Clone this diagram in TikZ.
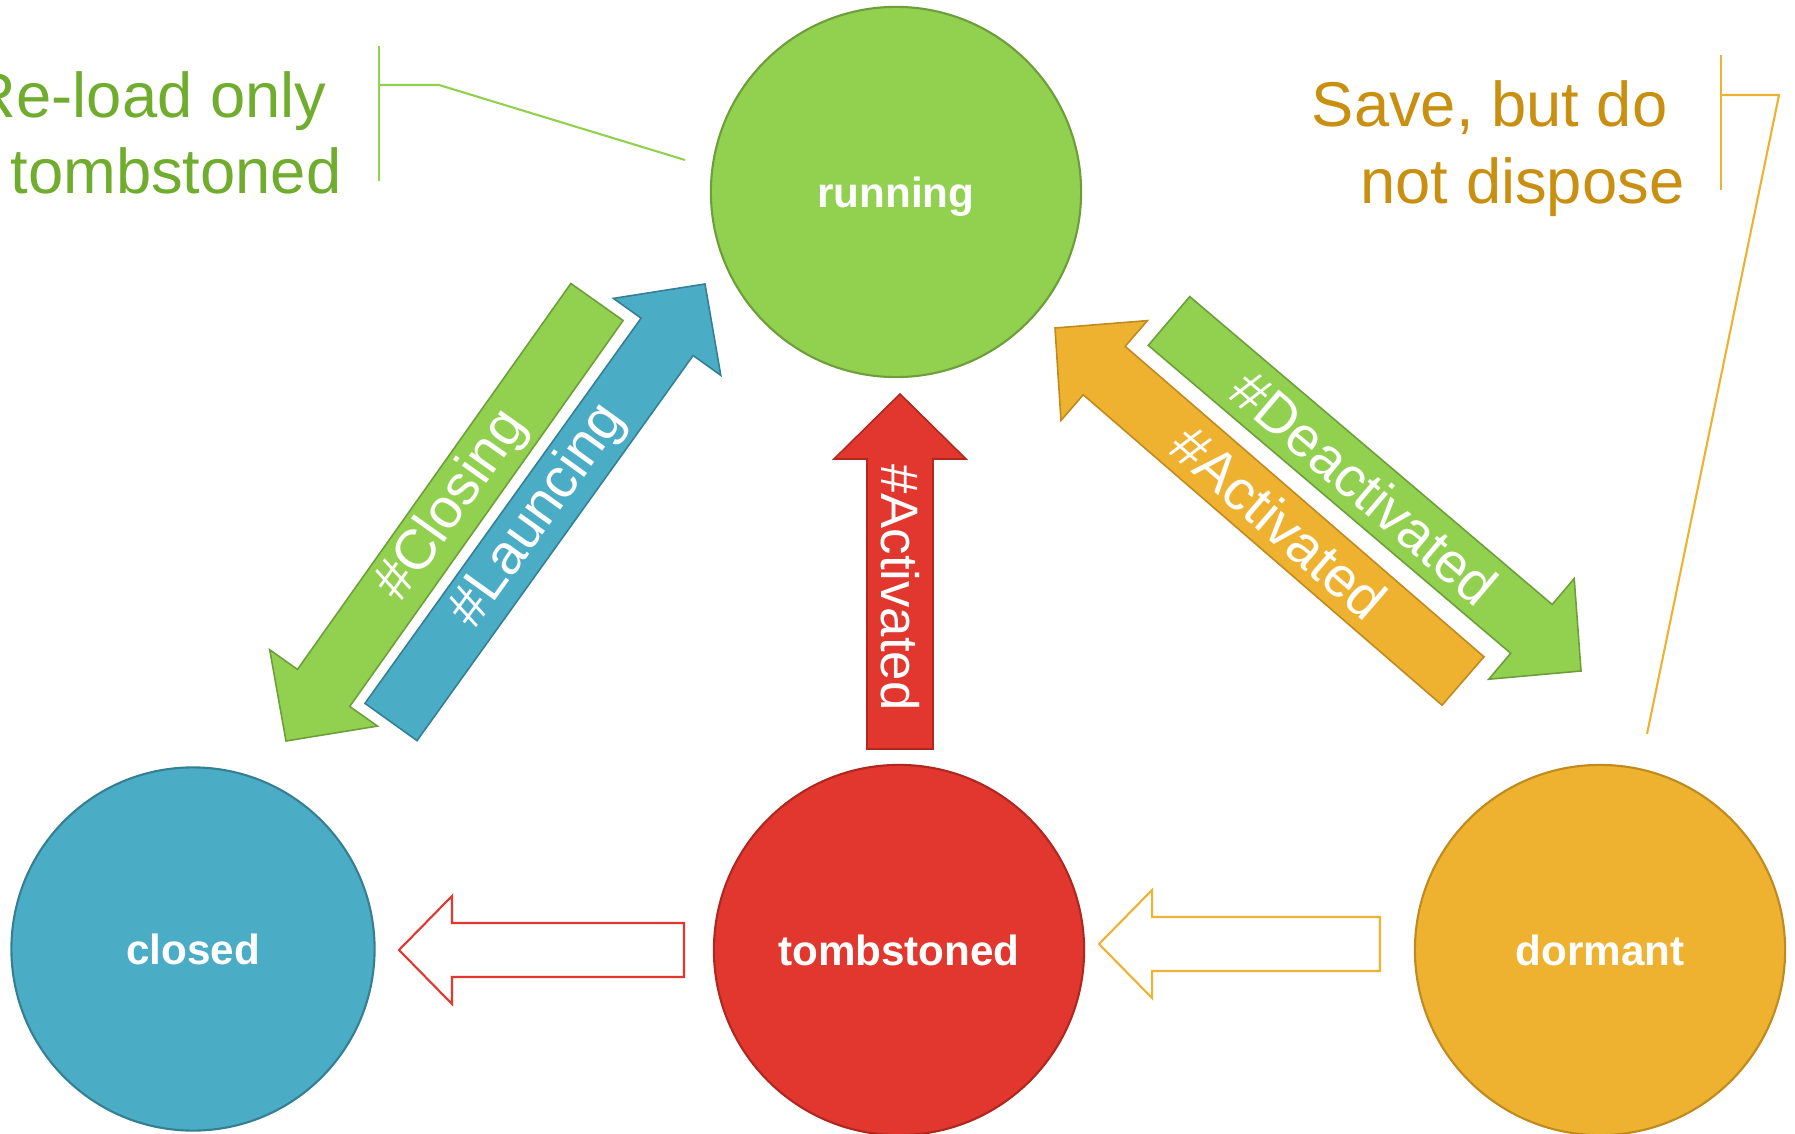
\documentclass[tikz,border=0pt]{standalone}
\usepackage{fontspec}
\setmainfont{Liberation Sans}
\usetikzlibrary{calc}

\definecolor{grn}{HTML}{92D050}
\definecolor{grnline}{HTML}{6E9E3A}
\definecolor{grntext}{HTML}{70AC2E}
\definecolor{blu}{HTML}{4BACC6}
\definecolor{bluline}{HTML}{357F93}
\definecolor{rd}{HTML}{E2372F}
\definecolor{rdline}{HTML}{AE2820}
\definecolor{org}{HTML}{EEB230}
\definecolor{orgline}{HTML}{BF8A1E}
\definecolor{orgtext}{HTML}{C98F10}

% block arrow from tail (#2) to tip (#3); half shaft \aw, half head \ah, head length \al
\newcommand{\blockarrow}[4]{%
  \coordinate (#4-b) at ($(#3)!\al!(#2)$);
  \draw[#1] ($(#2)!\aw!90:(#3)$) -- ($(#4-b)!\aw!90:(#3)$) -- ($(#4-b)!\ah!90:(#3)$) -- (#3)
    -- ($(#4-b)!\ah!-90:(#3)$) -- ($(#4-b)!\aw!-90:(#3)$) -- ($(#2)!\aw!-90:(#3)$) -- cycle;
}

\begin{document}
\begin{tikzpicture}[x=0.01cm, y=0.01cm,
  state/.style={circle, draw, line width=0.6pt, inner sep=0pt, minimum size=3.7cm,
    text depth=0pt, text=white, font=\fontsize{12}{14}\selectfont\bfseries},
  note/.style={inner sep=0pt, font=\fontsize{18}{22}\selectfont},
  arrowtext/.style={text=white, inner sep=0pt, font=\fontsize{16}{19}\selectfont},
  callout/.style={line width=0.6pt}]

\useasboundingbox (0,0) rectangle (1795,1133);
\clip (0,0) rectangle (1795,1133);

% States
\node[state, fill=grn, draw=grnline] (running) at (896,941) {running};
\node[state, fill=blu, draw=bluline, minimum size=3.63cm] (closed) at (193,184) {closed};
\node[state, fill=rd, draw=rdline] (tomb) at (899,183) {tombstoned};
\node[state, fill=org, draw=orgline] (dormant) at (1600,183) {dormant};

% Arrow ends
\coordinate (closeTail) at (597,831);
\coordinate (closeTip) at (286,392);
\coordinate (launchTail) at (391,411);
\coordinate (launchTip) at (705,849);
\coordinate (deactTail) at (1169,812);
\coordinate (deactTip) at (1581,462);
\coordinate (actTail) at (1463,452);
\coordinate (actTip) at (1055,805);
\coordinate (wakeTail) at (900,384);
\coordinate (wakeTip) at (900,739);

% Filled arrows
\def\aw{0.32cm}\def\ah{0.66cm}\def\al{0.65cm}
\blockarrow{fill=grn, draw=grnline, line width=0.45pt}{closeTail}{closeTip}{close}
\blockarrow{fill=blu, draw=bluline, line width=0.45pt}{launchTail}{launchTip}{launch}
\blockarrow{fill=grn, draw=grnline, line width=0.45pt}{deactTail}{deactTip}{deact}
\blockarrow{fill=org, draw=orgline, line width=0.45pt}{actTail}{actTip}{act}
\def\aw{0.33cm}
\blockarrow{fill=rd, draw=rdline, line width=0.45pt}{wakeTail}{wakeTip}{wake}

% Arrow labels
\path (closeTail) -- (closeTip) node[arrowtext, pos=0.465, sloped] (closeLbl) {\#Closing};
\path (launchTail) -- (launchTip) node[arrowtext, pos=0.47, sloped] (launchLbl) {\#Launcing};
\path (deactTail) -- (deactTip) node[arrowtext, pos=0.475, sloped] (deactLbl) {\#Deactivated};
\path (actTail) -- (actTip) node[arrowtext, pos=0.45, sloped] (actLbl) {\#Activated};
\node[arrowtext, rotate=-90, font=\fontsize{15}{18}\selectfont] (wakeLbl)
  at ($(wakeTail)!0.455!(wakeTip)$) {\#Activated};

% Hollow arrows along the bottom
\def\aw{0.27cm}\def\ah{0.54cm}\def\al{0.53cm}
\coordinate (killTail) at (684,183);
\coordinate (killTip) at (399,183);
\coordinate (sleepTail) at (1380,189);
\coordinate (sleepTip) at (1099,189);
\blockarrow{draw=rd, fill=white, line width=0.6pt}{killTail}{killTip}{kill}
\blockarrow{draw=org, fill=white, line width=0.6pt}{sleepTail}{sleepTip}{sleep}

% Re-load note
\node[note, text=grntext, anchor=base east] (reload1) at (327,1015) {Re-load only};
\node[note, text=grntext, anchor=base east] (reload2) at (342,939) {tombstoned};
\coordinate (reloadEnd) at (685,973);
\draw[callout, draw=grn] (379,1087) -- (379,952);
\draw[callout, draw=grn] (379,1048) -- (439,1048) -- (reloadEnd);

% Save note
\node[note, text=orgtext, anchor=base east] (save1) at (1668,1006) {Save, but do};
\node[note, text=orgtext, anchor=base east] (save2) at (1685,929) {not dispose};
\coordinate (saveEnd) at (1647,399);
\draw[callout, draw=org] (1721,1078) -- (1721,943);
\draw[callout, draw=org] (1721,1038) -- (1779,1038) -- (saveEnd);

\end{tikzpicture}
\end{document}
